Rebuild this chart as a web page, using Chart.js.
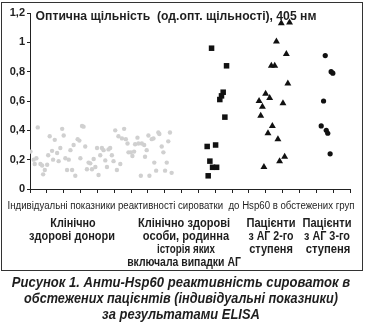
<!DOCTYPE html>
<html><head><meta charset="utf-8">
<script src="https://cdn.jsdelivr.net/npm/chart.js@4"></script>
<style>
html,body{margin:0;padding:0;background:#fff;}
#wrap{position:relative;width:366px;height:324px;overflow:hidden;font-family:"Liberation Sans",Arial,sans-serif;color:#1e1e1e;}
#frame{position:absolute;left:1px;top:2px;width:362px;height:269px;box-sizing:border-box;border:1.5px solid #333;}
canvas{position:absolute;left:0;top:0;}
.t{position:absolute;white-space:pre;transform-origin:50% 50%;line-height:1;}
</style></head><body>
<div id="wrap">
<div id="frame"></div>
<canvas id="c" width="366" height="324"></canvas>
</div>
<script>
// ---- data ----
const yTicks = [0, 0.2, 0.4, 0.6, 0.8, 1, 1.2];
const donorsX = [0.03,0.22,0.38,0.28,0.46,0.62,0.72,0.78,0.88,1.02,1.08,1.17,1.31,1.37,1.47,1.61,1.70,1.80,1.91,2.00,2.10,2.20,2.30,2.40,2.50,2.59,2.69,2.83,2.93,2.99,3.09,3.18,3.28,3.38,3.48,3.58,3.68,3.78,3.88,3.98,4.07,4.17,4.27,4.37,4.47,4.57,4.66,4.76,4.86,4.96,5.06,5.16,5.25,5.36,5.46,5.59,5.69,5.79,5.85,5.99,6.08,6.18,6.24,6.38,6.44,6.58,6.64,6.78,6.83,6.93,7.03,7.09,7.23,7.33,7.38,7.49,7.62,7.68,7.82,7.92,8.02,8.12,8.21,8.31,8.41];
const donorsY = [0.255,0.20,0.21,0.17,0.42,0.17,0.16,0.10,0.13,0.165,0.23,0.36,0.26,0.20,0.335,0.245,0.19,0.28,0.41,0.365,0.21,0.13,0.20,0.265,0.13,0.30,0.09,0.34,0.33,0.21,0.43,0.425,0.29,0.135,0.18,0.175,0.135,0.205,0.15,0.28,0.095,0.23,0.28,0.265,0.195,0.15,0.27,0.28,0.23,0.19,0.40,0.13,0.36,0.17,0.345,0.41,0.34,0.31,0.25,0.25,0.225,0.255,0.305,0.35,0.31,0.09,0.31,0.30,0.22,0.265,0.365,0.09,0.34,0.345,0.18,0.125,0.385,0.375,0.29,0.25,0.125,0.18,0.325,0.385,0.11];
const familyX = [10.78,11.67,11.47,11.37,11.27,11.57,10.52,11.02,10.68,10.84,11.08,10.58];
const familyY = [0.96,0.84,0.66,0.635,0.61,0.49,0.29,0.30,0.19,0.148,0.148,0.09];
const ag2X = [14.92,15.41,14.63,15.22,14.33,14.53,15.31,13.99,14.23,13.60,15.02,13.80,13.70,14.39,14.13,14.72,15.12,14.82,13.89];
const ag2Y = [1.13,1.135,1.005,0.92,0.84,0.84,0.72,0.65,0.62,0.60,0.585,0.56,0.50,0.43,0.38,0.34,0.22,0.19,0.15];
const ag3X = [17.53,17.88,17.98,17.43,17.29,17.59,17.68,17.82];
const ag3Y = [0.91,0.80,0.79,0.60,0.43,0.40,0.38,0.24];

const titleText = "Оптична щільність  (од.опт. щільності), 405 нм";
const subtitleText = "Індивідуальні показники реактивності сироватки  до Hsp60 в обстежених груп";
const groupLabels = [
  ["Клінічно", "здорові донори"],
  ["Клінічно здорові", "особи, родинна", "історія яких", "включала випадки АГ"],
  ["Пацієнти", "з АГ 2-го", "ступеня"],
  ["Пацієнти", "з АГ 3-го", "ступеня"]
];
const captionLines = [
  "Рисунок 1. Анти-Hsp60 реактивність сироваток в",
  "обстежених пацієнтів (індивідуальні показники)",
  "за результатами ELISA"
];

function pts(xs, ys){ return xs.map((x,i)=>({x:x, y:ys[i]})); }

// ---- texts ----
const wrap = document.getElementById('wrap');
function addText(txt, cx, cy, w, size, weight, style, family){
  const s = document.createElement('span');
  s.className = 't';
  s.textContent = txt;
  s.style.font = (style||'normal') + ' ' + weight + ' ' + size + 'px ' + (family || '"Liberation Sans", Arial, sans-serif');
  s.style.left = cx + 'px';
  s.style.top = cy + 'px';
  wrap.appendChild(s);
  const ow = s.offsetWidth;
  const sc = w ? w/ow : 1;
  s.style.transform = 'translate(-50%,-50%) scaleX(' + sc + ')';
  s.style.zIndex = 5;
}
addText(titleText, 175.5, 15.5, 281, 12, 'bold');
addText(subtitleText, 181, 205, 347, 10, 'normal');
const gPos = [
  [[72.5,223,45],[72,236,86]],
  [[184,223,92],[186,236,86],[186,249,58],[184,262,114]],
  [[270.5,223,49],[270.5,236,45],[271,249,44]],
  [[326.5,223,49],[327,236,46],[327.5,249,45]]
];
groupLabels.forEach((g,gi)=>g.forEach((line,li)=>{
  const p = gPos[gi][li];
  addText(line, p[0], p[1], p[2], 12, 'bold');
}));
const cPos = [[181,282,338],[181,298,314],[181,314,158]];
captionLines.forEach((line,i)=>addText(line, cPos[i][0], cPos[i][1], cPos[i][2], 14, 'bold', 'italic'));

// ---- chart ----
new Chart(document.getElementById('c'), {
  type: 'scatter',
  data: {
    datasets: [
      {data: pts(donorsX, donorsY), pointStyle:'circle', pointRadius:2.2, backgroundColor:'#d0d0d0', borderWidth:0},
      {data: pts(familyX, familyY), pointStyle:'rect', pointRadius:3.9, backgroundColor:'#111', borderWidth:0},
      {data: pts(ag2X, ag2Y), pointStyle:'triangle', pointRadius:4, backgroundColor:'#111', borderWidth:0},
      {data: pts(ag3X, ag3Y), pointStyle:'circle', pointRadius:2.6, backgroundColor:'#111', borderWidth:0}
    ]
  },
  options: {
    responsive: false,
    animation: false,
    events: [],
    layout: {padding: {left:0, top:13, right:16, bottom:0}},
    plugins: {legend:{display:false}, tooltip:{enabled:false}, title:{display:false}},
    elements: {point: {hoverRadius: 0}},
    scales: {
      x: {
        type: 'linear', min: 0, max: 19,
        afterFit: s => { s.height = 135; },
        ticks: {stepSize: 1, callback: () => '', autoSkip:false},
        grid: {drawOnChartArea:false, drawTicks:true, tickLength:4, color:'#222', lineWidth:1},
        border: {display:true, color:'#222', width:1}
      },
      y: {
        min: 0, max: 1.2,
        afterFit: s => { s.width = 30; },
        afterBuildTicks: s => { s.ticks = yTicks.map(v=>({value:v})); },
        ticks: {
          callback: v => String(Math.round(v*10)/10).replace('.', ','),
          font: {family:'"Liberation Sans", Arial, sans-serif', size:11, weight:'bold'},
          color: '#222', padding: 2
        },
        grid: {drawOnChartArea:false, drawTicks:true, tickLength:3, color:'#222', lineWidth:1},
        border: {display:true, color:'#222', width:1}
      }
    }
  }
});
</script>
</body></html>
